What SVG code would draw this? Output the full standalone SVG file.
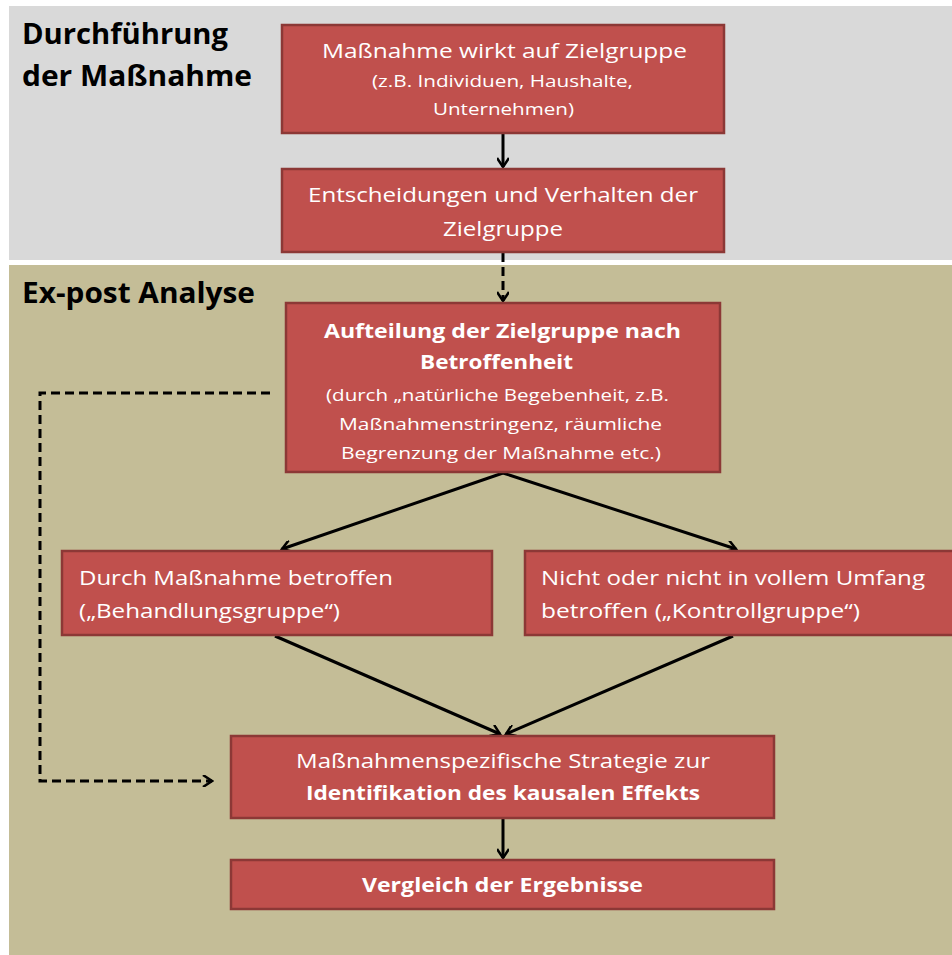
<svg xmlns="http://www.w3.org/2000/svg" width="952" height="955" viewBox="0 0 952 955">
<defs>
<marker id="ah" markerWidth="12" markerHeight="12" refX="10" refY="6" orient="auto" markerUnits="userSpaceOnUse">
<path d="M1,0 L10,6 L1,12" fill="none" stroke="#000" stroke-width="2.5"/>
</marker>
<style>
.box{fill:#C0504D;stroke:#8C3836;stroke-width:2.5}
.t{font-family:"Open Sans","Liberation Sans",sans-serif;fill:#fff;font-size:20px}
.s{font-size:17px}
.b{font-weight:bold}
.h{font-family:"Open Sans","Liberation Sans",sans-serif;fill:#000;font-size:28px;font-weight:bold}
.c{fill:none;stroke:#000;stroke-width:3}
.d{stroke-dasharray:9,5}
</style>
</defs>
<rect x="0" y="0" width="952" height="955" fill="#fff"/>
<rect x="9" y="6" width="943" height="254" fill="#D9D9D9"/>
<rect x="9" y="265" width="943" height="690" fill="#C4BD97"/>
<g id="heading1">
<text class="h" x="22" y="44" textLength="206" lengthAdjust="spacingAndGlyphs">Durchführung</text>
<text class="h" x="22" y="86" textLength="230" lengthAdjust="spacingAndGlyphs">der Maßnahme</text>
</g>
<g id="heading2">
<text class="h" x="22" y="303" textLength="233" lengthAdjust="spacingAndGlyphs">Ex-post Analyse</text>
</g>
<g id="connectors">
<line class="c" x1="503" y1="134" x2="503" y2="167" marker-end="url(#ah)"/>
<line class="c d" x1="503" y1="253" x2="503" y2="301" marker-end="url(#ah)"/>
<line class="c" x1="503" y1="473" x2="282" y2="549" marker-end="url(#ah)"/>
<line class="c" x1="503" y1="473" x2="736" y2="549" marker-end="url(#ah)"/>
<line class="c" x1="275" y1="636" x2="500" y2="734" marker-end="url(#ah)"/>
<line class="c" x1="733" y1="636" x2="506" y2="734" marker-end="url(#ah)"/>
<line class="c" x1="503" y1="819" x2="503" y2="858" marker-end="url(#ah)"/>
<polyline class="c d" points="270,393 40,393 40,781 212,781" marker-end="url(#ah)"/>
</g>
<g id="n1">
<rect class="box" x="282" y="25" width="442" height="108"/>
<text class="t" x="322" y="58" textLength="365" lengthAdjust="spacingAndGlyphs">Maßnahme wirkt auf Zielgruppe</text>
<text class="t s" x="372" y="87" textLength="261" lengthAdjust="spacingAndGlyphs">(z.B. Individuen, Haushalte,</text>
<text class="t s" x="433" y="115" textLength="141" lengthAdjust="spacingAndGlyphs">Unternehmen)</text>
</g>
<g id="n2">
<rect class="box" x="282" y="169" width="442" height="83"/>
<text class="t" x="308" y="202" textLength="390" lengthAdjust="spacingAndGlyphs">Entscheidungen und Verhalten der</text>
<text class="t" x="443" y="236" textLength="120" lengthAdjust="spacingAndGlyphs">Zielgruppe</text>
</g>
<g id="n3">
<rect class="box" x="286" y="303" width="434" height="169"/>
<text class="t b" x="324" y="338" textLength="357" lengthAdjust="spacingAndGlyphs">Aufteilung der Zielgruppe nach</text>
<text class="t b" x="420" y="369" textLength="153" lengthAdjust="spacingAndGlyphs">Betroffenheit</text>
<text class="t s" x="326" y="401" textLength="343" lengthAdjust="spacingAndGlyphs">(durch „natürliche Begebenheit, z.B.</text>
<text class="t s" x="339" y="430" textLength="323" lengthAdjust="spacingAndGlyphs">Maßnahmenstringenz, räumliche</text>
<text class="t s" x="341" y="459" textLength="320" lengthAdjust="spacingAndGlyphs">Begrenzung der Maßnahme etc.)</text>
</g>
<g id="n4">
<rect class="box" x="62" y="551" width="430" height="84"/>
<text class="t" x="79" y="585" textLength="314" lengthAdjust="spacingAndGlyphs">Durch Maßnahme betroffen</text>
<text class="t" x="79" y="618" textLength="261" lengthAdjust="spacingAndGlyphs">(„Behandlungsgruppe“)</text>
</g>
<g id="n5">
<rect class="box" x="525" y="551" width="432" height="84"/>
<text class="t" x="541" y="585" textLength="384" lengthAdjust="spacingAndGlyphs">Nicht oder nicht in vollem Umfang</text>
<text class="t" x="541" y="618" textLength="319" lengthAdjust="spacingAndGlyphs">betroffen („Kontrollgruppe“)</text>
</g>
<g id="n6">
<rect class="box" x="231" y="736" width="543" height="82"/>
<text class="t" x="296" y="768" textLength="414" lengthAdjust="spacingAndGlyphs">Maßnahmenspezifische  Strategie zur</text>
<text class="t b" x="306" y="800" textLength="394" lengthAdjust="spacingAndGlyphs">Identifikation des kausalen Effekts</text>
</g>
<g id="n7">
<rect class="box" x="231" y="860" width="543" height="49"/>
<text class="t b" x="362" y="892" textLength="281" lengthAdjust="spacingAndGlyphs">Vergleich der Ergebnisse</text>
</g>
</svg>
